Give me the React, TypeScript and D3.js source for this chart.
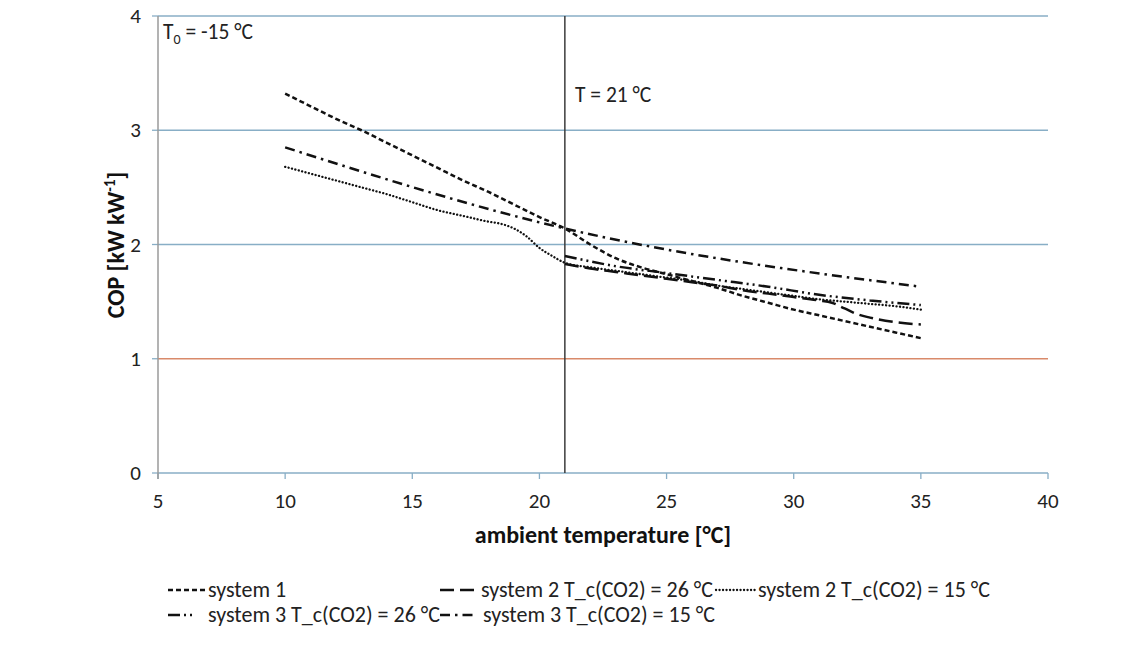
import React from "react";
import * as d3 from "d3";

const xTicks = [5, 10, 15, 20, 25, 30, 35, 40];
const yTicks = [0, 1, 2, 3, 4];

const sys1T = [10, 11, 12, 13, 14, 15, 16, 17, 18, 19, 20, 21, 22, 23, 24, 25, 26, 27, 28, 29, 30, 31, 32, 33, 34, 35];
const sys1V = [3.32, 3.21, 3.1, 3.0, 2.89, 2.78, 2.67, 2.56, 2.46, 2.35, 2.24, 2.14, 2.0, 1.88, 1.8, 1.74, 1.68, 1.62, 1.55, 1.49, 1.43, 1.38, 1.33, 1.28, 1.23, 1.18];

const sys2a26T = [21, 22, 23, 24, 25, 26, 27, 28, 29, 30, 31, 31.5, 32, 32.5, 33, 34, 35];
const sys2a26V = [1.83, 1.79, 1.76, 1.73, 1.7, 1.67, 1.64, 1.6, 1.57, 1.54, 1.51, 1.49, 1.44, 1.39, 1.36, 1.32, 1.3];

const sys2a15T = [10, 11, 12, 13, 14, 15, 16, 17, 18, 18.5, 19, 19.5, 20, 20.5, 21, 22, 23, 24, 25, 26, 27, 28, 29, 30, 31, 32, 33, 34, 35];
const sys2a15V = [2.68, 2.62, 2.56, 2.5, 2.44, 2.37, 2.3, 2.25, 2.2, 2.18, 2.14, 2.07, 1.97, 1.9, 1.84, 1.8, 1.77, 1.74, 1.71, 1.68, 1.64, 1.61, 1.58, 1.55, 1.52, 1.5, 1.48, 1.46, 1.43];

const sys3a26T = [21, 23, 25, 27, 29, 31, 33, 35];
const sys3a26V = [1.9, 1.81, 1.75, 1.69, 1.63, 1.56, 1.51, 1.47];

const sys3a15T = [10, 21, 35];
const sys3a15V = [2.85, 2.14, 1.63];

const seriesNames = [
  "system 1",
  "system 2 T_c(CO2) = 26 °C",
  "system 2 T_c(CO2) = 15 °C",
  "system 3 T_c(CO2) = 26 °C",
  "system 3 T_c(CO2) = 15 °C",
];

const FONT = "Carlito, Calibri, Lato, 'Open Sans', sans-serif";

export default function App() {
  const W = 1143, H = 648;
  const x = d3.scaleLinear().domain([5, 40]).range([158, 1048]);
  const y = d3.scaleLinear().domain([0, 4]).range([473, 16]);
  const line = d3
    .line<[number, number]>()
    .x((d) => x(d[0]))
    .y((d) => y(d[1]))
    .curve(d3.curveMonotoneX);

  const zip = (a: number[], b: number[]) => a.map((t, i) => [t, b[i]] as [number, number]);

  const series = [
    { name: seriesNames[0], data: zip(sys1T, sys1V), dash: "5,3", w: 2.5, cap: "butt" },
    { name: seriesNames[1], data: zip(sys2a26T, sys2a26V), dash: "14,6", w: 2.5, cap: "butt" },
    { name: seriesNames[2], data: zip(sys2a15T, sys2a15V), dash: "0.1,3.4", w: 2.3, cap: "round" },
    { name: seriesNames[3], data: zip(sys3a26T, sys3a26V), dash: "12,4,2,4,2,4", w: 2.5, cap: "butt" },
    { name: seriesNames[4], data: zip(sys3a15T, sys3a15V), dash: "10,5,2.5,5", w: 2.5, cap: "butt" },
  ];

  const gridColor = "#88aec6";
  const legend = [
    { i: 0, x0: 168, x1: 207, tx: 208, y: 597 },
    { i: 1, x0: 440, x1: 476, tx: 481, y: 597 },
    { i: 2, x0: 716, x1: 755, tx: 758, y: 597 },
    { i: 3, x0: 168, x1: 196, tx: 208, y: 622 },
    { i: 4, x0: 440, x1: 477, tx: 483, y: 622 },
  ];

  return (
    <svg
      width={W}
      height={H}
      style={{ position: "absolute", left: 0, top: 0, background: "#fff" }}
      fontFamily={FONT}
    >
      {/* gridlines */}
      {yTicks.filter((t) => t > 0).map((t) => (
        <line key={"g" + t} x1={x(5)} x2={x(40)} y1={y(t)} y2={y(t)} stroke={t === 1 ? "#d98a6a" : gridColor} strokeWidth={1.3} />
      ))}
      {/* y ticks */}
      {yTicks.map((t) => (
        <line key={"yt" + t} x1={x(5) - 6} x2={x(5)} y1={y(t)} y2={y(t)} stroke={gridColor} strokeWidth={1.3} />
      ))}
      {/* x axis */}
      <line x1={x(5)} x2={x(40)} y1={y(0)} y2={y(0)} stroke={gridColor} strokeWidth={1.5} />
      {xTicks.map((t) => (
        <line key={"xt" + t} x1={x(t)} x2={x(t)} y1={y(0)} y2={y(0) + 6} stroke={gridColor} strokeWidth={1.3} />
      ))}
      {/* y axis */}
      <line x1={x(5)} x2={x(5)} y1={y(4)} y2={y(0) + 6} stroke="#9a9a9a" strokeWidth={1.5} />
      {/* vertical marker at 21 */}
      <line x1={x(21)} x2={x(21)} y1={y(4)} y2={y(0)} stroke="#3c3c3c" strokeWidth={1.5} />

      {/* tick labels */}
      {yTicks.map((t) => (
        <text key={"yl" + t} x={141} y={y(t) + 7} textAnchor="end" fontSize={21} fill="#222">
          {t}
        </text>
      ))}
      {xTicks.map((t) => (
        <text key={"xl" + t} x={x(t)} y={508} textAnchor="middle" fontSize={21} fill="#222">
          {t}
        </text>
      ))}

      {/* axis titles */}
      <text x={603} y={543} textAnchor="middle" fontSize={24} fontWeight="bold" fill="#111">
        ambient temperature [°C]
      </text>
      <text transform="translate(124,245) rotate(-90)" textAnchor="middle" fontSize={24} fontWeight="bold" fill="#111">
        COP [kW kW
        <tspan fontSize={15} dy={-9}>-1</tspan>
        <tspan dy={9}>]</tspan>
      </text>

      {/* annotations */}
      <text x={163} y={39} fontSize={21.5} fill="#222">
        T<tspan fontSize={14} dy={5}>0</tspan>
        <tspan dy={-5}> = -15 °C</tspan>
      </text>
      <text x={575} y={102} fontSize={21.5} fill="#222">
        T = 21 °C
      </text>

      {/* data */}
      {series.map((s, i) => (
        <path
          key={"s" + i}
          d={line(s.data) || ""}
          fill="none"
          stroke="#111"
          strokeWidth={s.w}
          strokeDasharray={s.dash}
          strokeLinecap={s.cap as any}
        />
      ))}

      {/* legend */}
      {legend.map((l) => {
        const s = series[l.i];
        return (
          <g key={"lg" + l.i}>
            <line x1={l.x0} x2={l.x1} y1={l.y - 7} y2={l.y - 7} stroke="#111" strokeWidth={s.w} strokeDasharray={s.dash} strokeLinecap={s.cap as any} />
            <text x={l.tx} y={l.y} fontSize={22} fill="#222">
              {s.name}
            </text>
          </g>
        );
      })}
    </svg>
  );
}
